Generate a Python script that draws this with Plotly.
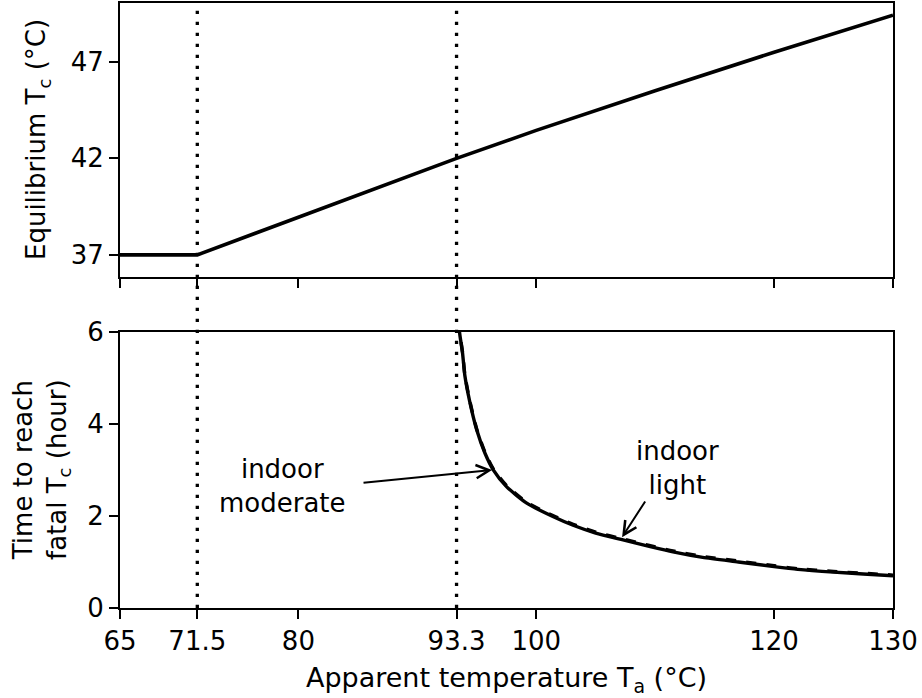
import plotly.graph_objects as go

# ---- data ----
ta_eq = [65, 71.5, 80, 93.3, 100, 110, 120, 130]
tc_eq = [37, 37, 38.95, 42, 43.45, 45.5, 47.5, 49.42]

ta_time = [93.45, 93.6, 93.8, 94.0, 94.4, 95.0, 95.7, 96.4, 97.5, 99.2, 101.4,
           103.1, 105.0, 107.3, 109.5, 111.5, 114.0, 117.0, 120.0, 122.0, 125.0,
           127.5, 130.0]
t_moderate = [6.2, 5.9, 5.55, 5.05, 4.5, 3.87, 3.36, 3.0, 2.64, 2.28, 1.99,
              1.80, 1.63, 1.48, 1.34, 1.22, 1.10, 1.00, 0.90, 0.84, 0.78,
              0.74, 0.70]
t_light = [6.22, 5.92, 5.57, 5.07, 4.52, 3.89, 3.38, 3.02, 2.66, 2.30, 2.01,
           1.82, 1.65, 1.50, 1.36, 1.24, 1.12, 1.02, 0.92, 0.855, 0.795,
           0.755, 0.715]

x_ticks = [65, 71.5, 80, 93.3, 100, 120, 130]
x_ticklabels = ["65", "71.5", "80", "93.3", "100", "120", "130"]
y_top_ticks = [37, 42, 47]
y_bot_ticks = [0, 2, 4, 6]
threshold_ta = [71.5, 93.3]

FONT = "DejaVu Sans"
FS = 26

fig = go.Figure()
fig.add_trace(go.Scatter(x=ta_eq, y=tc_eq, mode="lines",
                         line=dict(color="black", width=3.6),
                         xaxis="x", yaxis="y", showlegend=False))
fig.add_trace(go.Scatter(x=ta_time, y=t_light, mode="lines",
                         line=dict(color="black", width=3.4, dash="dash",
                                   shape="spline", smoothing=0.6),
                         xaxis="x2", yaxis="y2", showlegend=False))
fig.add_trace(go.Scatter(x=ta_time, y=t_moderate, mode="lines",
                         line=dict(color="black", width=3.4,
                                   shape="spline", smoothing=0.6),
                         xaxis="x2", yaxis="y2", showlegend=False))

for xv in threshold_ta:
    fig.add_shape(type="line", xref="x2", yref="paper", x0=xv, x1=xv, y0=0, y1=1,
                  line=dict(color="black", width=3.3, dash="3.3px,7.7px"))

axis_common = dict(range=[65, 130], tickvals=x_ticks, ticks="outside", ticklen=9,
                   tickwidth=2, tickcolor="black", showline=True, linewidth=2,
                   linecolor="black", mirror=True, showgrid=False, zeroline=False,
                   automargin=False)
yaxis_common = dict(ticks="outside", ticklen=9, tickwidth=2, tickcolor="black",
                    showline=True, linewidth=2, linecolor="black", mirror=True,
                    showgrid=False, zeroline=False, automargin=False)

fig.update_layout(
    width=922, height=698,
    margin=dict(l=120, r=29, t=3, b=90, autoexpand=False),
    plot_bgcolor="white", paper_bgcolor="white",
    font=dict(family=FONT, size=FS, color="black"),
    xaxis=dict(**axis_common, anchor="y", showticklabels=False, domain=[0, 1]),
    xaxis2=dict(**axis_common, anchor="y2", ticktext=x_ticklabels, domain=[0, 1],
                title=dict(text="Apparent temperature T<sub>a</sub> (°C)",
                           font=dict(size=27), standoff=13)),
    yaxis=dict(**yaxis_common, domain=[0.547, 1], range=[35.85, 50.05],
               tickvals=y_top_ticks),
    yaxis2=dict(**yaxis_common, domain=[0, 0.456], range=[0, 6],
                tickvals=y_bot_ticks),
)

# y-axis titles
fig.add_annotation(text="Equilibrium T<sub>c</sub> (°C)", xref="paper", yref="paper",
                   x=-0.106, y=0.7736, textangle=-90, showarrow=False,
                   xanchor="center", yanchor="middle", font=dict(size=FS))
fig.add_annotation(text="Time to reach<br>fatal T<sub>c</sub> (hour)", xref="paper",
                   yref="paper", x=-0.102, y=0.228, textangle=-90, showarrow=False,
                   xanchor="center", yanchor="middle", font=dict(size=FS))

# labels
fig.add_annotation(text="indoor<br>moderate", x=78.7, y=2.65, xref="x2", yref="y2",
                   showarrow=False, font=dict(size=FS))
fig.add_annotation(text="indoor<br>light", x=111.9, y=3.04, xref="x2", yref="y2",
                   showarrow=False, font=dict(size=FS))

# arrows
fig.add_annotation(text="", x=96.29, y=3.0, ax=85.35, ay=2.72, xref="x2", yref="y2",
                   axref="x2", ayref="y2", showarrow=True, arrowhead=5,
                   arrowsize=1.3, arrowwidth=2, arrowcolor="black", standoff=0)
fig.add_annotation(text="", x=107.22, y=1.54, ax=109.24, ay=2.35, xref="x2", yref="y2",
                   axref="x2", ayref="y2", showarrow=True, arrowhead=5,
                   arrowsize=1.3, arrowwidth=2, arrowcolor="black", standoff=0)

fig.write_html("out.html")
